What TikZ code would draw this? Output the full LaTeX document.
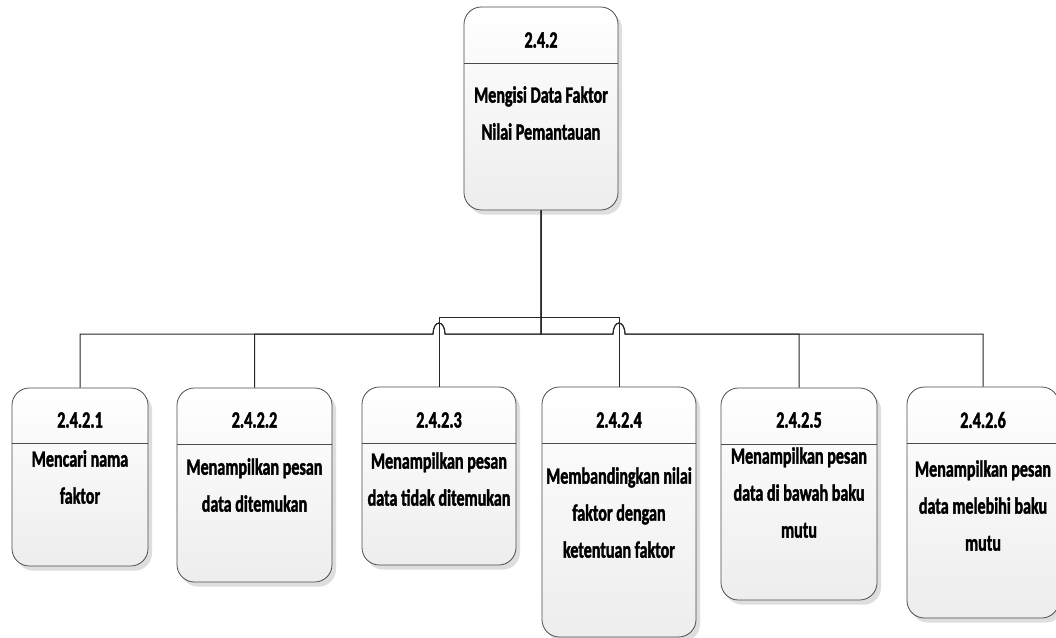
\documentclass[tikz,border=0pt]{standalone}
\usepackage{fontspec}
\newfontfamily\procfont{Carlito}[FakeStretch=0.69, FakeBold=1.6]
\usetikzlibrary{shadows, calc}

\begin{document}
\begin{tikzpicture}[
    x=0.75pt, y=0.75pt,
    font=\procfont\bfseries\fontsize{17.5}{27.75}\selectfont,
    % Node styles
    procbox/.style={
        rectangle, rounded corners=13pt,
        draw=black!70, line width=0.6pt,
        top color=white, bottom color=black!7,
        drop shadow={shadow xshift=3pt, shadow yshift=-3.5pt,
                     fill=black!13, opacity=1}
    },
    numtext/.style={inner sep=0pt, align=center},
    bodytext/.style={inner sep=0pt, align=center, anchor=north},
    divider/.style={draw=black!70, line width=0.6pt},
    conn/.style={draw=black!85, line width=0.75pt},
]

%% ---- canvas ----
\fill[white] (0,0) rectangle (1056,-638);
\useasboundingbox (0,0) rectangle (1056,-638);

%% ---- PARENT PROCESS ----
\node[procbox, minimum width=115.5pt, minimum height=152.25pt] (top) at (541,-108.5) {};
\draw[divider] (top.west |- 0,-63) -- (top.east |- 0,-63);
\node[numtext]  (topnum)  at (541,-40) {2.4.2};
\node[bodytext] (toptext) at (541,-86) {Mengisi Data Faktor\\Nilai Pemantauan};

%% ---- CHILD PROCESSES ----
\node[procbox, minimum width=102pt,    minimum height=133.5pt] (c1) at (80,-477)    {};
\node[procbox, minimum width=116.25pt, minimum height=145.5pt] (c2) at (254.5,-485) {};
\node[procbox, minimum width=115.5pt,  minimum height=133.5pt] (c3) at (439,-476)   {};
\node[procbox, minimum width=115.5pt,  minimum height=187.5pt] (c4) at (619,-512)   {};
\node[procbox, minimum width=117pt,    minimum height=159pt]   (c5) at (799,-494)   {};
\node[procbox, minimum width=114pt,    minimum height=173.25pt](c6) at (983,-502.5) {};

% dividers under the numbers
\draw[divider] (c1.west |- 0,-443) -- (c1.east |- 0,-443);
\draw[divider] (c2.west |- 0,-444) -- (c2.east |- 0,-444);
\draw[divider] (c3.west |- 0,-443) -- (c3.east |- 0,-443);
\draw[divider] (c4.west |- 0,-443) -- (c4.east |- 0,-443);
\draw[divider] (c5.west |- 0,-444) -- (c5.east |- 0,-444);
\draw[divider] (c6.west |- 0,-443) -- (c6.east |- 0,-443);

% numbers
\node[numtext] (c1num) at (80,-420)    {2.4.2.1};
\node[numtext] (c2num) at (254.5,-420) {2.4.2.2};
\node[numtext] (c3num) at (439,-420)   {2.4.2.3};
\node[numtext] (c4num) at (619,-420)   {2.4.2.4};
\node[numtext] (c5num) at (799,-420)   {2.4.2.5};
\node[numtext] (c6num) at (983,-420)   {2.4.2.6};

% process names
\node[bodytext] (c1text) at (80,-450)    {Mencari nama\\faktor};
\node[bodytext] (c2text) at (254.5,-458) {Menampilkan pesan\\data ditemukan};
\node[bodytext] (c3text) at (439,-452)   {Menampilkan pesan\\data tidak ditemukan};
\node[bodytext] (c4text) at (619,-467)   {Membandingkan nilai\\faktor dengan\\ketentuan faktor};
\node[bodytext] (c5text) at (799,-447)   {Menampilkan pesan\\data di bawah baku\\mutu};
\node[bodytext] (c6text) at (983,-460)   {Menampilkan pesan\\data melebihi baku\\mutu};

%% ---- CONNECTORS ----
\coordinate (bus)  at (541,-334);
\coordinate (jump) at (541,-317);

% outer children run along the bus, hopping over the inner drops
\draw[conn] (top.south) -- (top.south |- bus) -- ($(c3.north |- bus)+(6,0)$)
    arc[start angle=0, end angle=180, x radius=6, y radius=11] -| (c1.north);
\draw[conn] (top.south) -- (top.south |- bus) -- ($(c3.north |- bus)+(6,0)$)
    arc[start angle=0, end angle=180, x radius=6, y radius=11] -| (c2.north);
\draw[conn] (top.south) -- (top.south |- bus) -- ($(c4.north |- bus)+(-6,0)$)
    arc[start angle=180, end angle=0, x radius=6, y radius=11] -| (c5.north);
\draw[conn] (top.south) -- (top.south |- bus) -- ($(c4.north |- bus)+(-6,0)$)
    arc[start angle=180, end angle=0, x radius=6, y radius=11] -| (c6.north);

% inner children branch off higher up
\draw[conn] (top.south) -- (top.south |- jump) -| (c3.north);
\draw[conn] (top.south) -- (top.south |- jump) -| (c4.north);

\end{tikzpicture}
\end{document}
